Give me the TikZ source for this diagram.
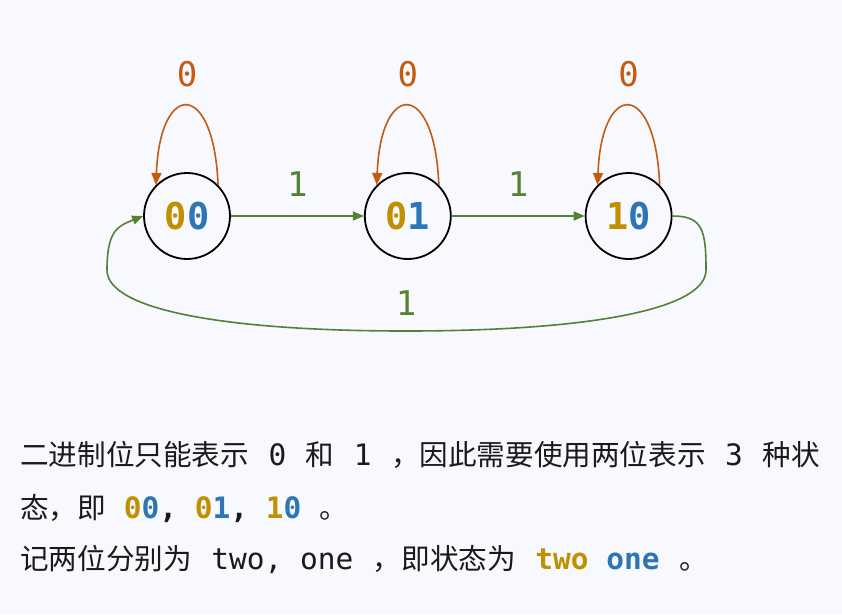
\documentclass[tikz,border=0pt]{standalone}
\usepackage{fontspec}
\setmainfont{DejaVu Sans}
\setmonofont{DejaVu Sans Mono}
\newfontfamily\cjk{Noto Sans CJK SC}
\usetikzlibrary{positioning, arrows.meta}
\definecolor{PageBg}{HTML}{F7F9FE}
\definecolor{TwoGold}{HTML}{BF9000}
\definecolor{OneBlue}{HTML}{2E75B6}
\definecolor{StayOrange}{HTML}{C55A11}
\definecolor{MoveGreen}{HTML}{548235}
\definecolor{Ink}{HTML}{1A1A1A}
\newcommand{\bitpair}[2]{\textcolor{TwoGold}{#1}\textcolor{OneBlue}{#2}}
\newcommand{\code}[1]{{\fontsize{29.5}{29.5}\selectfont\ttfamily #1}}
\newcommand{\gapw}{\hspace{19.5pt}}

\begin{document}
\begin{tikzpicture}[x=1pt, y=-1pt,
    state/.style={circle, draw=black, line width=1.8pt, minimum size=86pt, inner sep=0pt, font=\fontsize{37}{37}\selectfont\ttfamily\bfseries},
    stay/.style={draw=StayOrange, line width=1.6pt, -{Triangle[length=12pt, width=10pt]}},
    move/.style={draw=MoveGreen, line width=1.6pt, -{Triangle[length=11pt, width=9pt]}},
    stayl/.style={font=\fontsize{34}{34}\selectfont\ttfamily, text=StayOrange, inner sep=0pt},
    movel/.style={font=\fontsize{34}{34}\selectfont\ttfamily, text=MoveGreen, inner sep=0pt},
    body/.style={font=\fontsize{28.6}{28.6}\selectfont\cjk, text=Ink, anchor=base west, inner sep=0pt}
]
\fill[PageBg] (0,0) rectangle (842,614);
\useasboundingbox (0,0) rectangle (842,614);

% states
\node[state] (s00) at (187,216) {\bitpair{0}{0}};
\node[state, right=133pt of s00] (s01) {\bitpair{0}{1}};
\node[state, right=133pt of s01] (s10) {\bitpair{1}{0}};

% self loops on 0
\foreach \s in {s00, s01, s10}
  \draw[stay] (\s.45) .. controls +(-4,-105) and +(4,-105) .. node[stayl, above=18pt, pos=0.5] {0} (\s.135);

% moves on 1
\draw[move] (s00) -- node[movel, above=19pt] {1} (s01);
\draw[move] (s01) -- node[movel, above=19pt] {1} (s10);
\draw[move] (s10.east) .. controls +(30,0) and +(0,-40) .. (706,270)
  .. controls +(0,40) and +(180,0) .. (406,331) node[movel, above=15pt] {1}
  .. controls +(-180,0) and +(0,40) .. (107,270)
  .. controls +(0,-40) and +(-25,10) .. (s00.west);

% text below
\node[body] (line1) at (20,465) {二进制位只能表示\gapw\code{0}\gapw 和\gapw\code{1}\gapw ，因此需要使用两位表示\gapw\code{3}\gapw 种状};
\node[body] (line2) at (20,518) {态，即\code{ \textbf{\bitpair{0}{0}, \bitpair{0}{1}, \bitpair{1}{0}} }。};
\node[body] (line3) at (20,569) {记两位分别为\gapw\code{two, one}\gapw ，即状态为\gapw\code{\textbf{\textcolor{TwoGold}{two} \textcolor{OneBlue}{one}}}\gapw 。};

\end{tikzpicture}
\end{document}
